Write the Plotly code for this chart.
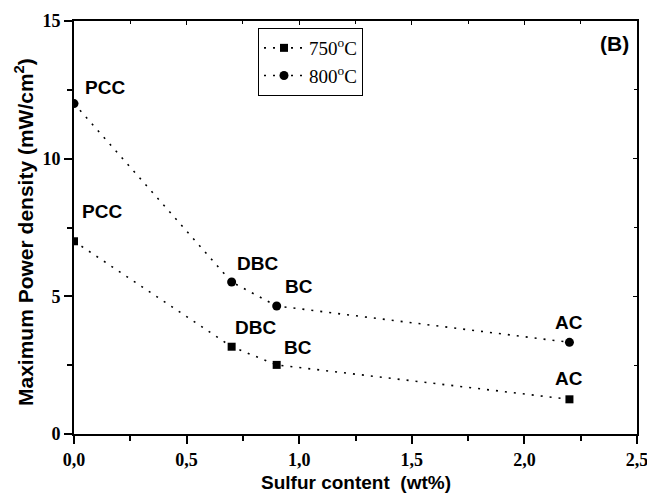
import plotly.graph_objects as go

# Sulfur content of each carbon fuel (wt%) and peak power density (mW/cm2)
sulfur = [0.0, 0.7, 0.9, 2.2]
fuel_names = ["PCC", "DBC", "BC", "AC"]
power_750 = [7.0, 3.17, 2.51, 1.26]
power_800 = [12.0, 5.52, 4.65, 3.33]

x_ticks = [0, 0.5, 1.0, 1.5, 2.0, 2.5]
x_tick_text = ["0,0", "0,5", "1,0", "1,5", "2,0", "2,5"]
y_ticks = [0, 5, 10, 15]
y_tick_text = ["0", "5", "10", "15"]

# label placement (pixels relative to each marker): (dx, dy, anchor)
label_pos_750 = [(6, 30, "left"), (1, 19, "left"), (5, 17, "left"), (0, 21, "center")]
label_pos_800 = [(9, 16, "left"), (3, 19, "left"), (6, 19, "left"), (0, 20, "center")]

SANS = "Liberation Sans"
SERIF = "Liberation Serif"

W, H = 647, 496
L, R, T, B = 74, 10, 21, 62
pw, ph = W - L - R, H - T - B

fig = go.Figure()

fig.add_trace(go.Scatter(
    x=sulfur, y=power_750, mode="lines+markers", name="750<sup>o</sup>C",
    line=dict(color="black", width=1.6, dash="2px,7px"),
    marker=dict(symbol="square", size=8, color="black"),
))
fig.add_trace(go.Scatter(
    x=sulfur, y=power_800, mode="lines+markers", name="800<sup>o</sup>C",
    line=dict(color="black", width=1.6, dash="2px,7px"),
    marker=dict(symbol="circle", size=9, color="black"),
))
# carrier for the top/right frame axes
fig.add_trace(go.Scatter(
    x=[0], y=[0], xaxis="x2", yaxis="y2", mode="markers",
    marker=dict(opacity=0), showlegend=False, hoverinfo="skip",
))

annotations = []
for vals, pos in ((power_750, label_pos_750), (power_800, label_pos_800)):
    for xv, yv, name, (dx, dy, anc) in zip(sulfur, vals, fuel_names, pos):
        annotations.append(dict(
            x=xv, y=yv, xref="x", yref="y", text="<b>%s</b>" % name, showarrow=False,
            xanchor=anc, yanchor="middle", xshift=dx, yshift=dy,
            font=dict(family=SANS, size=19, color="black"),
        ))
annotations.append(dict(
    x=(614 - L) / pw, y=(H - B - 43) / ph, xref="paper", yref="paper",
    text="<b>(B)</b>", showarrow=False, xanchor="center", yanchor="middle",
    font=dict(family=SANS, size=21, color="black"),
))
# axis titles, placed by pixel position
annotations.append(dict(
    x=(24 - L) / pw, y=(H - B - 232) / ph, xref="paper", yref="paper",
    text="<b>Maximum Power density (mW/cm<sup>2</sup>)</b>", textangle=-90,
    showarrow=False, xanchor="center", yanchor="middle",
    font=dict(family=SANS, size=21, color="black"),
))
annotations.append(dict(
    x=(356 - L) / pw, y=(H - B - 482) / ph, xref="paper", yref="paper",
    text="<b>Sulfur content  (wt%)</b>",
    showarrow=False, xanchor="center", yanchor="middle",
    font=dict(family=SANS, size=19, color="black"),
))

tickfont = dict(family=SERIF, size=18, color="black")

fig.update_layout(
    width=W, height=H,
    margin=dict(l=L, r=R, t=T, b=B, autoexpand=False),
    paper_bgcolor="white", plot_bgcolor="white",
    showlegend=True,
    legend=dict(
        x=(258 - L) / pw, y=(H - B - 28) / ph, xanchor="left", yanchor="top",
        bordercolor="black", borderwidth=1, bgcolor="white",
        font=dict(family=SERIF, size=19, color="black"),
        tracegroupgap=0, itemwidth=40,
    ),
    xaxis=dict(
        range=[0, 2.5], tickvals=x_ticks, ticktext=["<b>%s</b>" % t for t in x_tick_text],
        ticklabeloverflow="allow", automargin=False,
        ticks="outside", ticklen=8, tickwidth=1.5, tickcolor="black",
        minor=dict(tickvals=[0.25, 0.75, 1.25, 1.75, 2.25], ticks="outside",
                   ticklen=5, tickwidth=1.5, tickcolor="black"),
        showline=True, linecolor="black", linewidth=1.8, showgrid=False, zeroline=False,
        tickfont=tickfont,
    ),
    yaxis=dict(
        range=[0, 15], tickvals=y_ticks, ticktext=["<b>%s</b>" % t for t in y_tick_text],
        ticklabeloverflow="allow", automargin=False,
        ticks="outside", ticklen=8, tickwidth=1.5, tickcolor="black",
        minor=dict(tickvals=[2.5, 7.5, 12.5], ticks="outside",
                   ticklen=5, tickwidth=1.5, tickcolor="black"),
        showline=True, linecolor="black", linewidth=1.8, showgrid=False, zeroline=False,
        tickfont=tickfont,
    ),
    xaxis2=dict(
        range=[0, 2.5], overlaying="x", side="top", showticklabels=False,
        automargin=False,
        tickvals=x_ticks, ticks="inside", ticklen=4, tickwidth=1.2, tickcolor="black",
        minor=dict(tickvals=[0.25, 0.75, 1.25, 1.75, 2.25], ticks="inside",
                   ticklen=3, tickwidth=1.2, tickcolor="black"),
        showline=True, linecolor="black", linewidth=1.8, showgrid=False, zeroline=False,
    ),
    yaxis2=dict(
        range=[0, 15], overlaying="y", side="right", showticklabels=False,
        automargin=False,
        tickvals=y_ticks, ticks="inside", ticklen=4, tickwidth=1.2, tickcolor="black",
        minor=dict(tickvals=[2.5, 7.5, 12.5], ticks="inside",
                   ticklen=3, tickwidth=1.2, tickcolor="black"),
        showline=True, linecolor="black", linewidth=1.8, showgrid=False, zeroline=False,
    ),
    annotations=annotations,
)

fig.write_html("out.html")
